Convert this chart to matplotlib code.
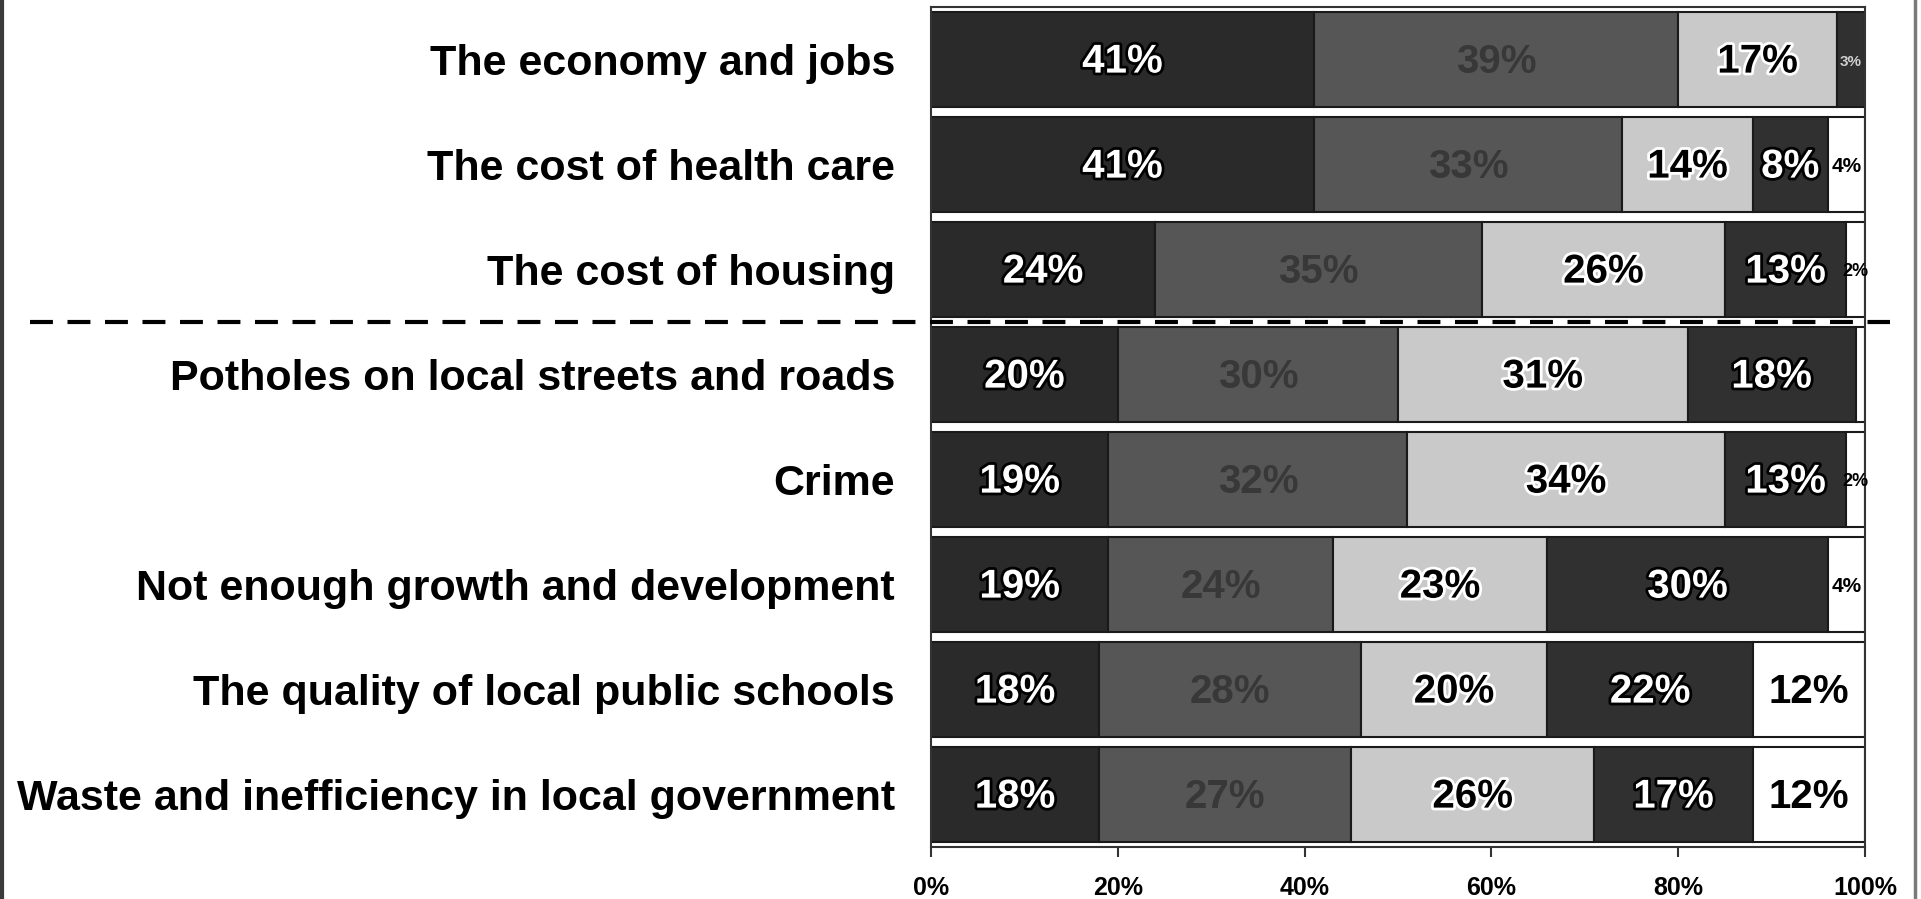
import numpy as np
import matplotlib
matplotlib.use("Agg")
import matplotlib.pyplot as plt
import matplotlib.patheffects as pe
from matplotlib.lines import Line2D
from matplotlib.transforms import blended_transform_factory

plt.rcParams['font.family'] = ['Liberation Sans', 'DejaVu Sans']
plt.rcParams['font.weight'] = 'bold'

issues = [
    "The economy and jobs",
    "The cost of health care",
    "The cost of housing",
    "Potholes on local streets and roads",
    "Crime",
    "Not enough growth and development",
    "The quality of local public schools",
    "Waste and inefficiency in local government",
]

# share of responses per segment, left to right
seg1 = [41, 41, 24, 20, 19, 19, 18, 18]
seg2 = [39, 33, 35, 30, 32, 24, 28, 27]
seg3 = [17, 14, 26, 31, 34, 23, 20, 26]
seg4 = [3, 8, 13, 18, 13, 30, 22, 17]
seg5 = [0, 4, 2, 1, 2, 4, 12, 12]

xticks = [0, 20, 40, 60, 80, 100]

series = [seg1, seg2, seg3, seg4, seg5]
fills = ["#2a2a2a", "#565656", "#c9c9c9", "#303030", "#ffffff"]
txt_colors = ["white", "#383838", "black", "white", "black"]
halo = ["black", None, "white", "black", None]

fig = plt.figure(figsize=(19.21, 8.99), dpi=100)
fig.patch.set_facecolor("white")
ax = fig.add_axes([931 / 1921, 1 - 847 / 899, 934 / 1921, 840 / 899])

y = np.arange(len(issues))
left = np.zeros(len(issues))

def label_size(v):
    if v >= 8:
        return 29
    if v == 4:
        return 15
    if v == 3:
        return 11
    if v == 2:
        return 13
    return 0

for i, vals in enumerate(series):
    vals = np.array(vals, dtype=float)
    bars = ax.barh(y, vals, left=left, height=0.9, color=fills[i],
                   edgecolor="#1a1a1a", linewidth=1.5, zorder=2)
    for bar, v, l, yy in zip(bars, vals, left, y):
        size = label_size(v)
        if v <= 0 or size == 0:
            continue
        effects = None
        if halo[i] is not None and size >= 15:
            effects = [pe.withStroke(linewidth=4, foreground=halo[i])]
        color = txt_colors[i] if size >= 12 or i != 3 else "#cfcfcf"
        t = ax.text(l + v / 2, yy + 0.02, f"{int(v)}%", ha="center", va="center",
                    fontsize=size, fontweight="bold", color=color,
                    path_effects=effects, zorder=3)
        t.set_clip_path(bar)
    left += vals

ax.set_xlim(0, 100)
ax.set_ylim(len(issues) - 0.5, -0.5)
ax.set_yticks(y)
ax.set_yticklabels(issues, fontsize=31, fontweight="bold")
ax.tick_params(axis="y", length=0, pad=26)
ax.set_xticks(xticks)
ax.set_xticklabels([f"{t}%" for t in xticks], fontsize=18, fontweight="bold")
ax.tick_params(axis="x", direction="out", length=7, width=1.5, pad=14, color="#333333")
for s in ax.spines.values():
    s.set_linewidth(1.5)
    s.set_color("#333333")

# divider between the top three issues and the local ones
tr = blended_transform_factory(fig.transFigure, ax.transData)
ax.plot([30 / 1921, 1890 / 1921], [2.5, 2.5], transform=tr, color="black",
        linewidth=3.0, linestyle=(0, (5.5, 3.5)), clip_on=False, zorder=4)

# page edges
fig.add_artist(Line2D([2 / 1921, 2 / 1921], [0, 1], color="#3a3a3a", linewidth=3))
fig.add_artist(Line2D([1915 / 1921, 1915 / 1921], [0, 1], color="#7a7a7a", linewidth=2.5))

fig.savefig("out.png", dpi=100, facecolor="white")
